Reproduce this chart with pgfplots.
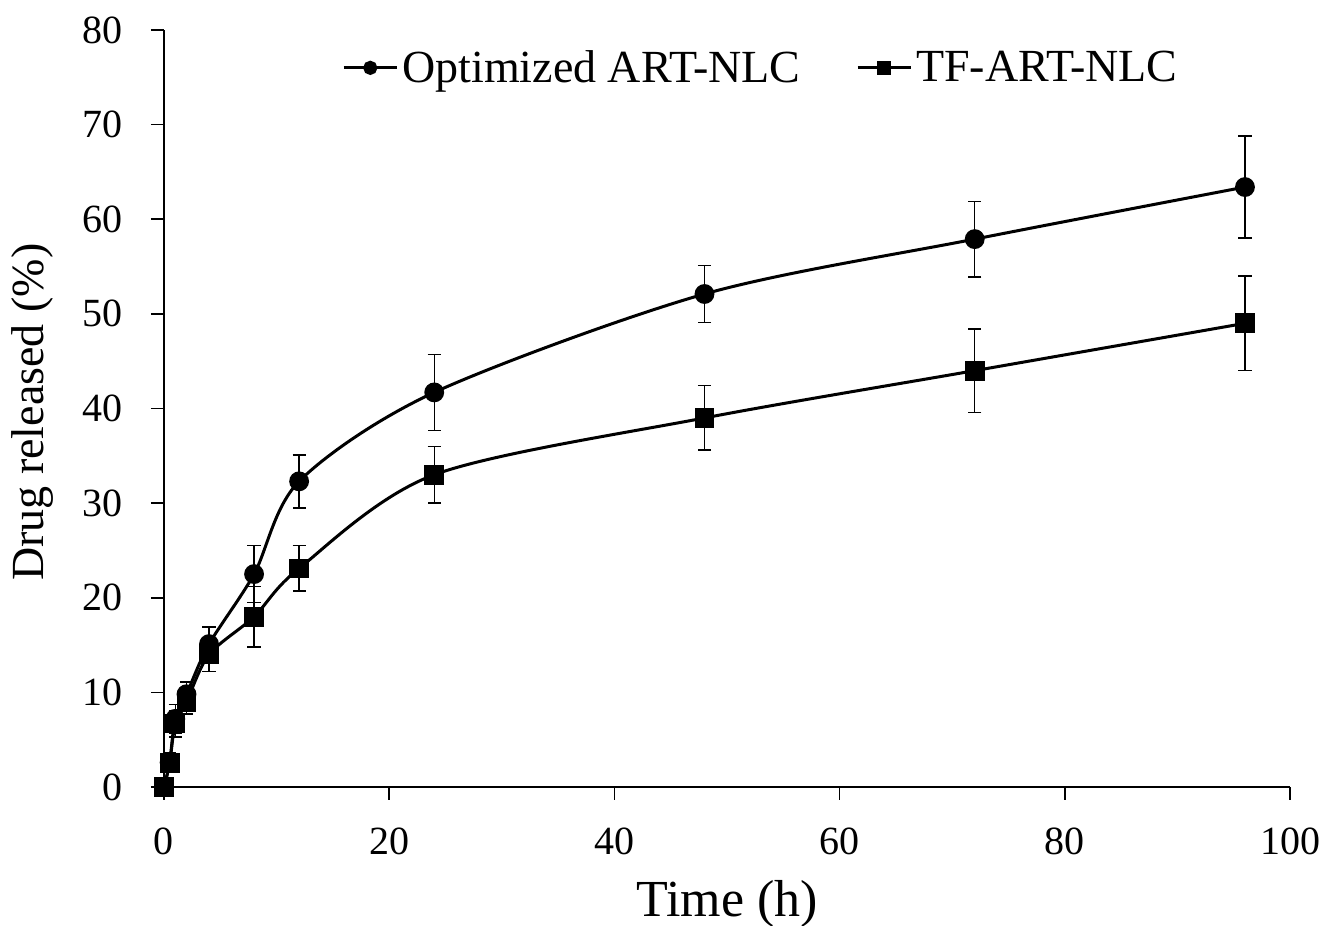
\documentclass[border=0pt]{standalone}
\usepackage{fontspec}
\setmainfont{Liberation Serif}
\usepackage{pgfplots}
\pgfplotsset{compat=1.18}
\begin{document}
\begin{tikzpicture}
\begin{axis}[
  name=main,
  scale only axis,
  width=563pt, height=378.5pt,
  xmin=0, xmax=100, ymin=0, ymax=80,
  axis x line*=bottom, axis y line*=left,
  axis line style={line width=0.8pt},
  xtick={0,20,...,100}, ytick={0,10,...,80},
  tick align=outside, major tick length=6.5pt,
  tick style={line width=0.8pt, black},
  /pgf/number format/assume math mode=true,
  ticklabel style={font=\fontsize{20}{24}\selectfont},
  xticklabel style={yshift=-10.5pt},
  yticklabel style={xshift=-10.5pt},
  xlabel={Time (h)}, ylabel={Drug released (\%)},
  xlabel style={font=\fontsize{26}{30}\selectfont,
    at={(axis description cs:0.5,-0.1717)}, anchor=base},
  ylabel style={font=\fontsize{23}{28}\selectfont,
    at={(axis description cs:-0.1066,0.495)}, anchor=base},
  clip=false,
  legend columns=2,
  legend style={draw=none, fill=none, at={(0.531,0.950)}, anchor=center,
    font=\fontsize{23}{27}\selectfont, /tikz/every even column/.append style={column sep=26pt}},
  legend image code/.code={
    \draw[#1, line width=1.5pt] (0cm,0cm) -- (0.93cm,0cm);
    \draw[#1, mark size=2.8pt, mark repeat=2, mark phase=2] plot coordinates {(0cm,0cm) (0.465cm,0cm) (0.93cm,0cm)};
  },
  error bars/error bar style={line width=0.7pt, black},
  error bars/error mark options={rotate=90, mark size=3.3pt, line width=0.7pt, black},
]
\addplot[black, line width=1.5pt, smooth, tension=0.5, mark=*, mark size=4.2pt,
  mark options={solid, fill=black},
  error bars/.cd, y dir=both, y explicit]
  table[x=t, y=y, y error=e] {
  t    y     e
  0    0     0.3
  0.5  2.6   1.0
  1    7.2   1.5
  2    9.8   1.3
  4    15.1  1.8
  8    22.5  3.0
  12   32.3  2.8
  24   41.7  4.0
  48   52.1  3.0
  72   57.9  4.0
  96   63.4  5.4
};
\addlegendentry{Optimized ART-NLC}
\addplot[black, line width=1.5pt, smooth, tension=0.5, mark=square*, mark size=4.2pt,
  mark options={solid, fill=black},
  error bars/.cd, y dir=both, y explicit]
  table[x=t, y=y, y error=e] {
  t    y     e
  0    0     0.3
  0.5  2.5   0.9
  1    6.7   1.4
  2    9.0   1.3
  4    14.0  1.8
  8    18.0  3.2
  12   23.1  2.4
  24   33.0  3.0
  48   39.0  3.4
  72   44.0  4.4
  96   49.0  5.0
};
\addlegendentry{TF-ART-NLC}
\end{axis}
% fix the page to a 663pt x 463pt frame around the axis box
\pgfresetboundingbox
\path (main.south west) ++(-82pt,-69.5pt) rectangle ([shift={(18pt,15pt)}]main.north east);
\end{tikzpicture}
\end{document}
